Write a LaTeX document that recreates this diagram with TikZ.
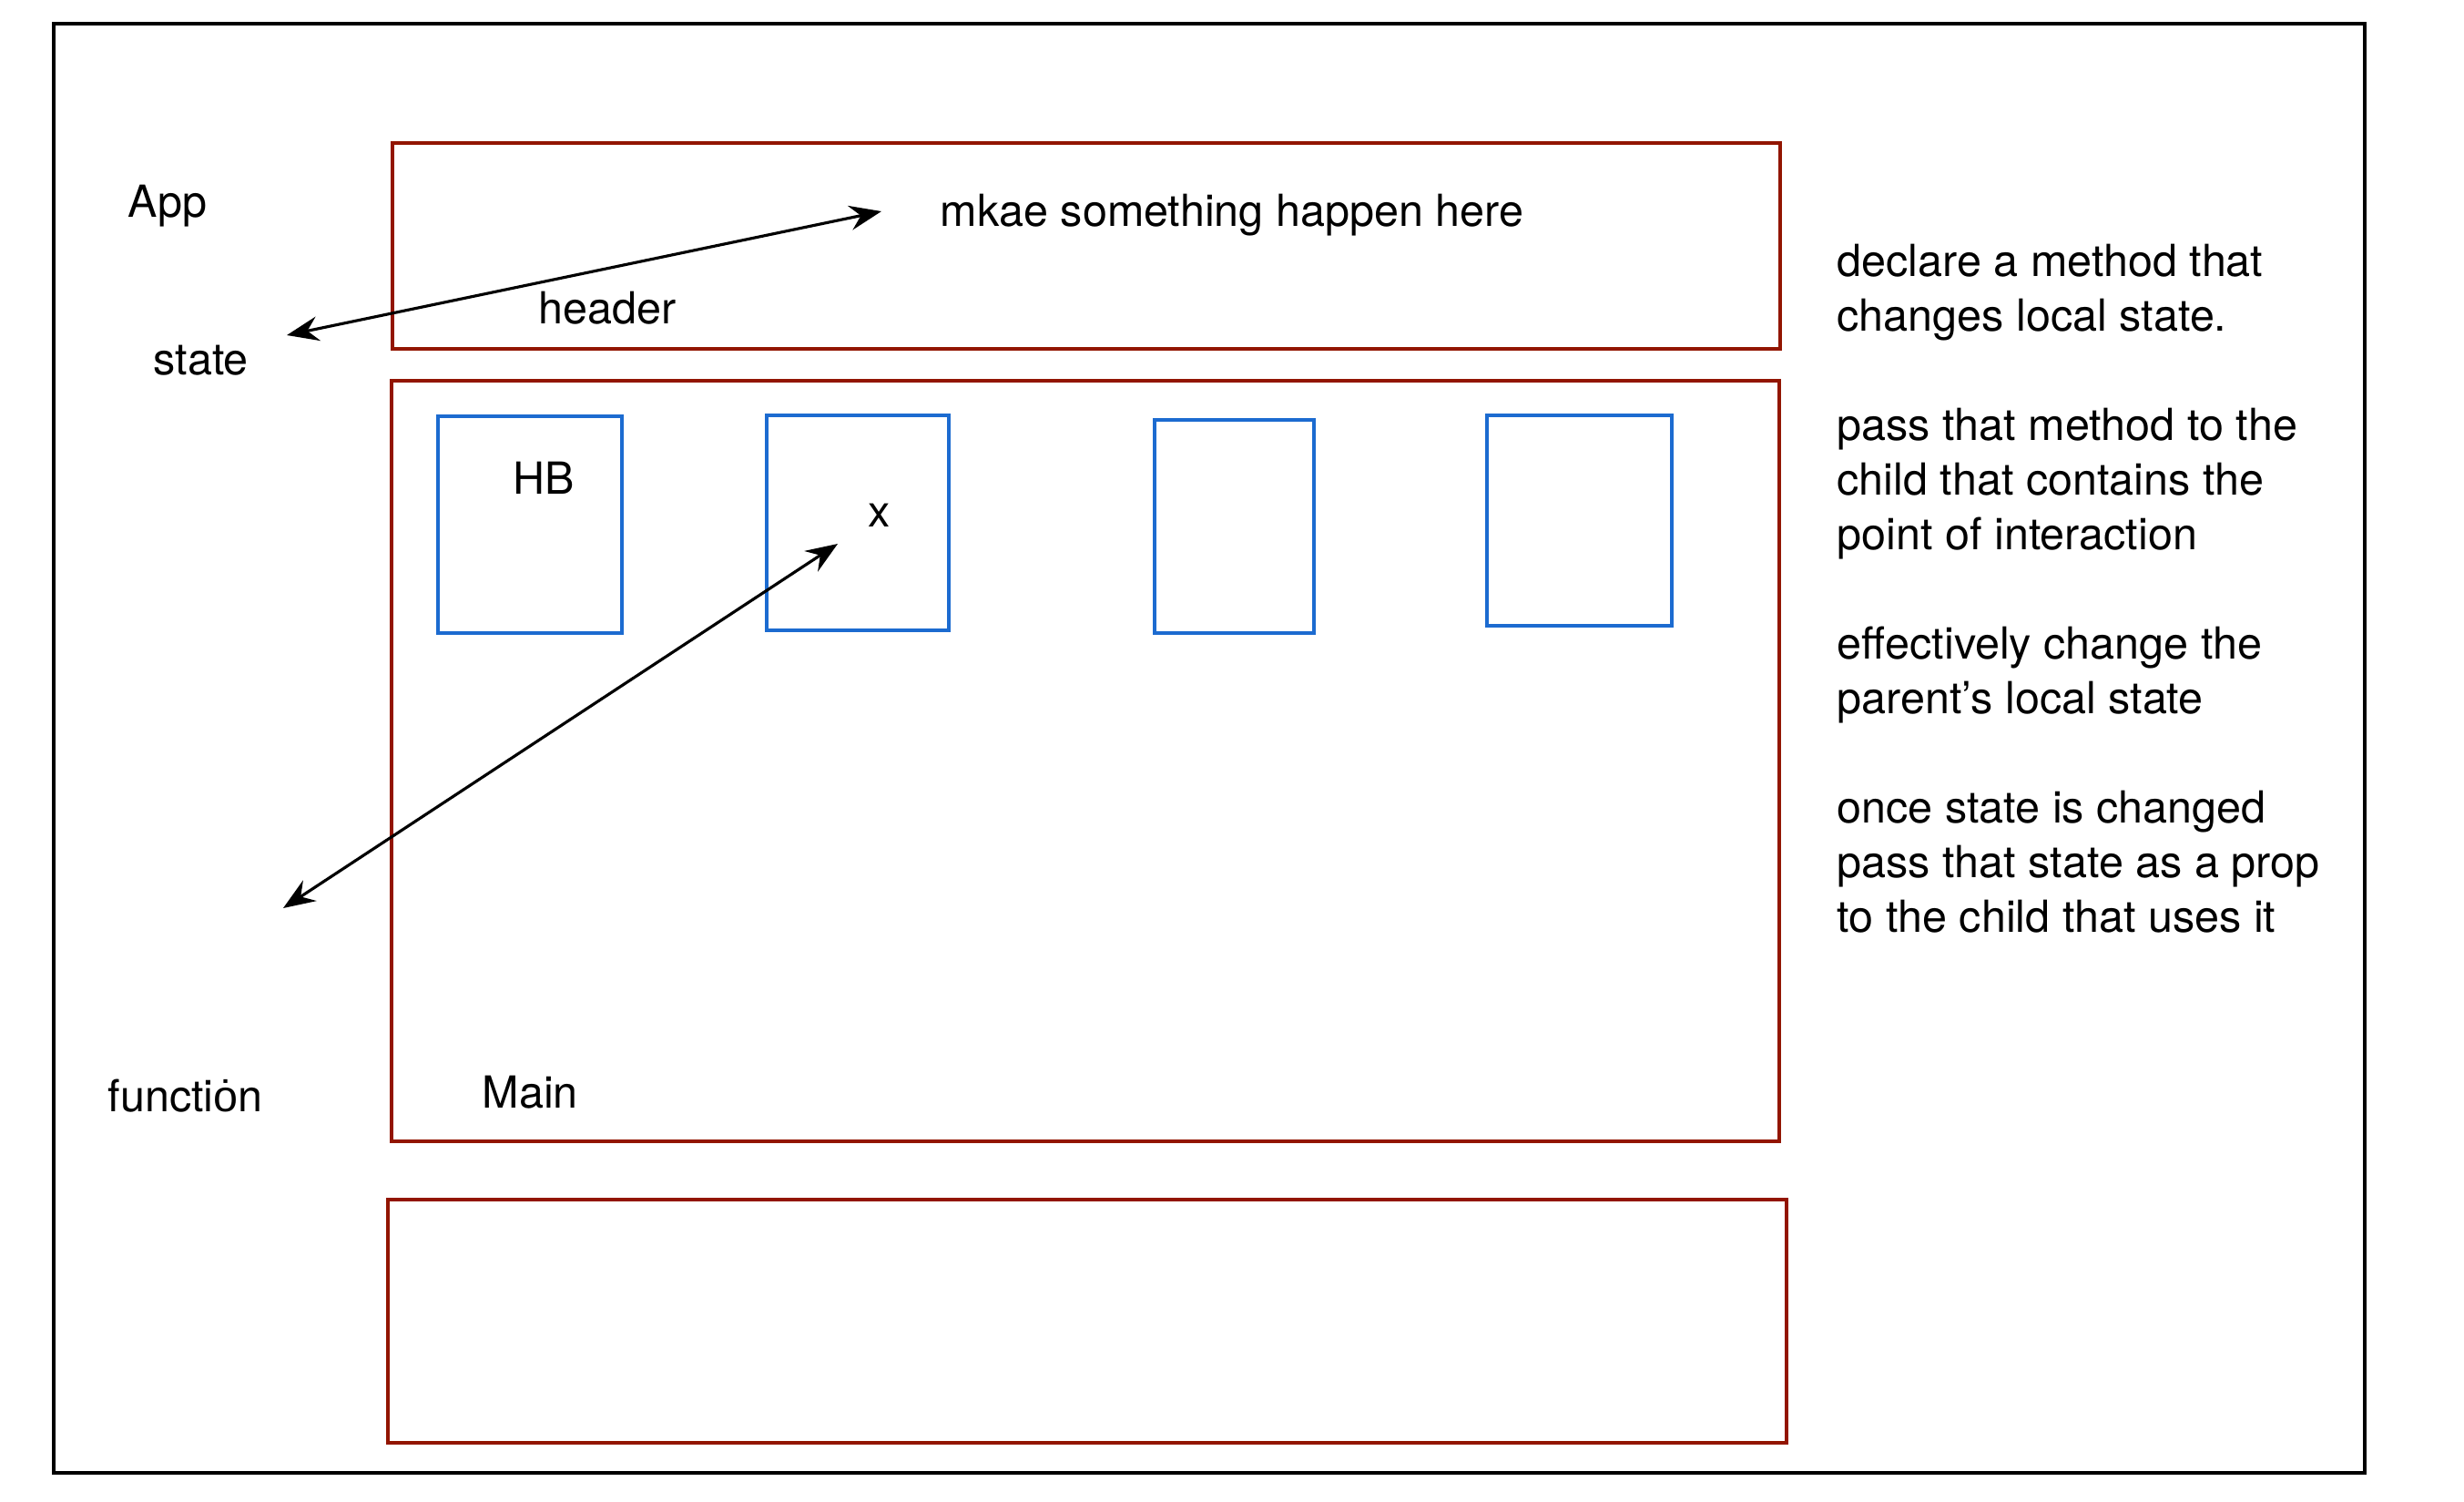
\documentclass[tikz,border=0pt]{standalone}
\usepackage{fontspec}
\setmainfont{TeX Gyre Heros}
\newfontfamily\dotfont{Liberation Sans}
\usepackage{xcolor}
\usetikzlibrary{arrows.meta}
\definecolor{boxRed}{HTML}{921500}
\definecolor{boxBlue}{HTML}{1C6BD0}

\begin{document}
\begin{tikzpicture}[font=\fontsize{13.8pt}{17.07pt}\selectfont,
  >={Stealth[length=3.5mm,width=2.7mm,inset=1.2mm]},
  part/.style={draw=boxRed, line width=0.9pt, inner sep=0pt},
  kid/.style={draw=boxBlue, line width=0.9pt, inner sep=0pt},
  lbl/.style={anchor=base west, inner sep=0pt}]
\useasboundingbox (0,0) rectangle (27.06,-16.48);
% frame of the app
\node[draw, line width=1pt, inner sep=0pt, minimum width=25.38cm, minimum height=15.91cm] (app) at (13.28,-8.215) {};
% components
\node[part, minimum width=15.24cm, minimum height=2.26cm] (hdr) at (11.93,-2.70) {};
\node[part, minimum width=15.24cm, minimum height=8.35cm] (main) at (11.92,-8.355) {};
\node[part, minimum width=15.36cm, minimum height=2.67cm] (ftr) at (11.94,-14.505) {};
\node[kid, minimum width=2.02cm, minimum height=2.38cm] (hb) at (5.82,-5.76) {};
\node[kid, minimum width=2.00cm, minimum height=2.36cm] (kidx) at (9.42,-5.74) {};
\node[kid, minimum width=1.75cm, minimum height=2.34cm] (kidc) at (13.555,-5.78) {};
\node[kid, minimum width=2.03cm, minimum height=2.31cm] (kidd) at (17.345,-5.715) {};
% labels
\node[lbl] (appLbl) at (1.40,-2.38) {App};
\node[lbl] (stateLbl) at (1.68,-4.11) {state};
\node[lbl] (fnLbl) at (1.18,-12.20) {functi{\dotfont ȯ}n};
\node[lbl] (hdrLbl) at (5.91,-3.55) {header};
\node[lbl] (happenLbl) at (10.32,-2.48) {mkae something happen here};
\node[lbl] (hbLbl) at (5.63,-5.42) {HB};
\node[lbl] (xLbl) at (9.53,-5.78) {x};
\node[lbl] (mainLbl) at (5.29,-12.16) {Main};
\node[anchor=north west, inner sep=0pt, align=left] (notes) at (20.17,-2.67)
  {declare a method that\\changes local state.\\[17.07pt]
   pass that method to the\\child that contains the\\point of interaction\\[17.07pt]
   effectively change the\\parent’s local state\\[17.07pt]
   once state is changed\\pass that state as a prop\\to the child that uses it};
% arrows
\coordinate (stateEnd) at (3.15,-3.68);
\coordinate (happenEnd) at (9.68,-2.32);
\coordinate (fnEnd) at (3.11,-9.97);
\coordinate (xEnd) at (9.20,-5.97);
\draw[<->, line width=0.9pt] (stateEnd) -- (happenEnd);
\draw[<->, line width=0.9pt] (fnEnd) -- (xEnd);
\end{tikzpicture}
\end{document}
